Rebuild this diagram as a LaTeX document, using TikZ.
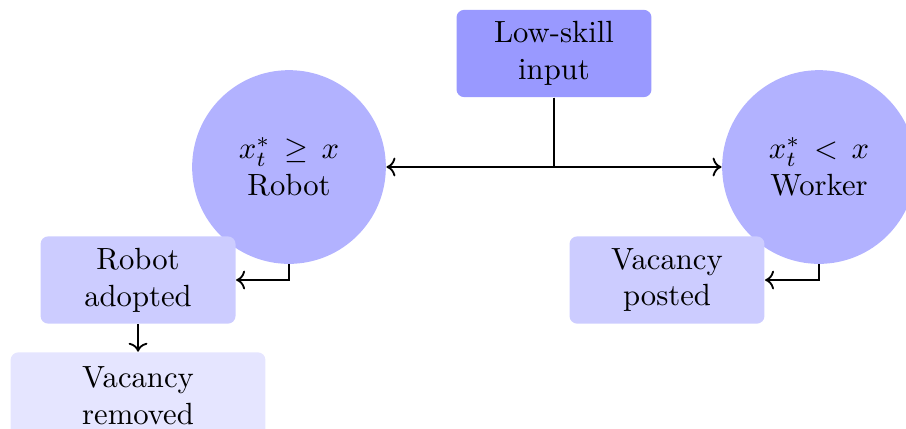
\documentclass[tikz,border=0pt]{standalone}
\usepackage{amsmath}
\usepackage{amssymb}
\usepackage{tikz}
\usetikzlibrary{arrows.meta, positioning}

\begin{document}
\begin{tikzpicture}[node distance=1.3cm, on grid,
  inputbox/.style={rectangle, fill=blue!40, text width=2cm, minimum height=1cm, align=center, rounded corners=2.5pt},
  choice/.style={circle, fill=blue!30, minimum size=2.22cm, align=center, inner sep=0pt},
  result/.style={rectangle, fill=blue!20, text width=2cm, minimum height=1cm, align=center, rounded corners=2.5pt},
  effect/.style={rectangle, fill=blue!10, minimum width=2.92cm, minimum height=1cm, align=center, rounded corners=2.5pt},
  arr/.style={->, semithick}
]
\useasboundingbox (-6.349,0.613) rectangle (4.034,-4.303);
\node[inputbox] (input) at (0,0) {Low-skill\\input};
\node[choice, below left=1.301cm and 3.037cm of input] (robot) {$x_t^*\,\geq\,x$\\Robot};
\node[choice, below right=1.301cm and 3.037cm of input] (worker) {$x_t^*\,<\,x$\\Worker};
\node[result, below left=1.295cm and 1.730cm of robot] (adopted) {Robot\\adopted};
\node[effect, below=1.329cm of adopted] (removed) {Vacancy\\removed};
\node[result, below left=1.295cm and 1.742cm of worker] (posted) {Vacancy\\posted};
\draw[arr] (input.south) |- (robot.east);
\draw[arr] (input.south) |- (worker.west);
\draw[arr] (robot.south) |- (adopted.east);
\draw[arr] (worker.south) |- (posted.east);
\draw[arr] (adopted) -- (removed);
\end{tikzpicture}
\end{document}
